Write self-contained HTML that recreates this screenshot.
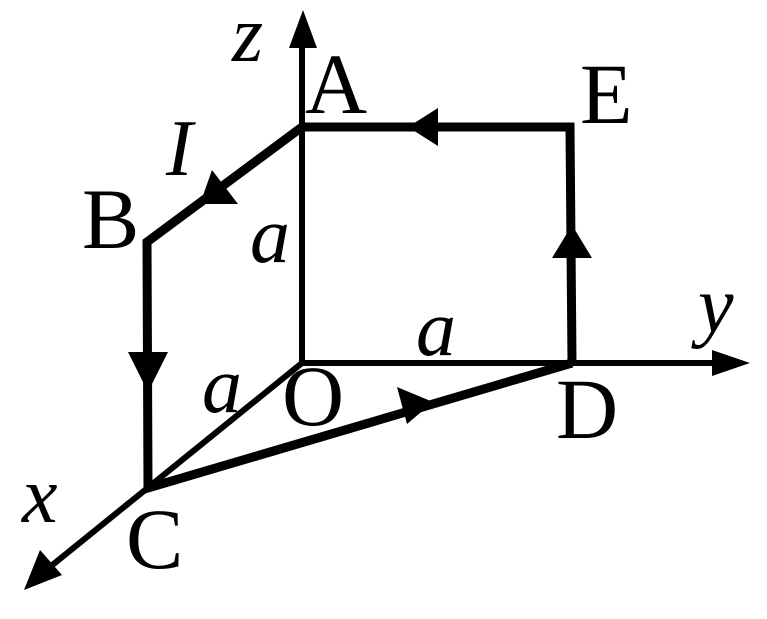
<!DOCTYPE html>
<html><head><meta charset="utf-8"><style>
html,body{margin:0;padding:0;background:#fff;width:767px;height:619px;overflow:hidden}
svg text{font-family:"Liberation Serif","Times New Roman",serif;fill:#000}
.c{font-size:86px}
.i{font-size:80px;font-style:italic}
</style></head><body>
<svg width="767" height="619" viewBox="0 0 767 619" xmlns="http://www.w3.org/2000/svg">
<g stroke="#000" fill="none" stroke-linecap="butt">
<line x1="302" y1="363" x2="302" y2="40" stroke-width="6"/>
<line x1="300" y1="363" x2="730" y2="363" stroke-width="6"/>
<line x1="302" y1="363" x2="40" y2="575" stroke-width="6"/>
<polyline points="302,127 570,127 572,363" stroke-width="9"/>
<polyline points="302,127 147,242 148,488 572,363" stroke-width="9" stroke-linejoin="miter"/>
</g>
<g fill="#000">
<polygon points="303,10 289,48 317,48"/>
<polygon points="750,363 712,350 712,376"/>
<polygon points="24,590 40,550 62,575"/>
<polygon points="408,127 438,108 438,146"/>
<polygon points="572,225 552,258 592,258"/>
<polygon points="200,204 212,170 238,204"/>
<polygon points="148,392 128,352 168,352"/>
<polygon points="433,402 397,387 407,424"/>
</g>
<text class="i" x="232" y="61">z</text>
<text class="c" x="305" y="113">A</text>
<text class="c" x="580" y="123">E</text>
<text class="i" x="166" y="175">I</text>
<text class="c" x="82" y="248">B</text>
<text class="i" x="250" y="262">a</text>
<text class="i" x="416" y="355">a</text>
<text class="i" x="698" y="332">y</text>
<text class="i" x="202" y="412">a</text>
<text class="c" x="282" y="425">O</text>
<text class="c" x="556" y="438">D</text>
<text class="i" x="22" y="522">x</text>
<text class="c" x="126" y="568">C</text>
</svg>
</body></html>
